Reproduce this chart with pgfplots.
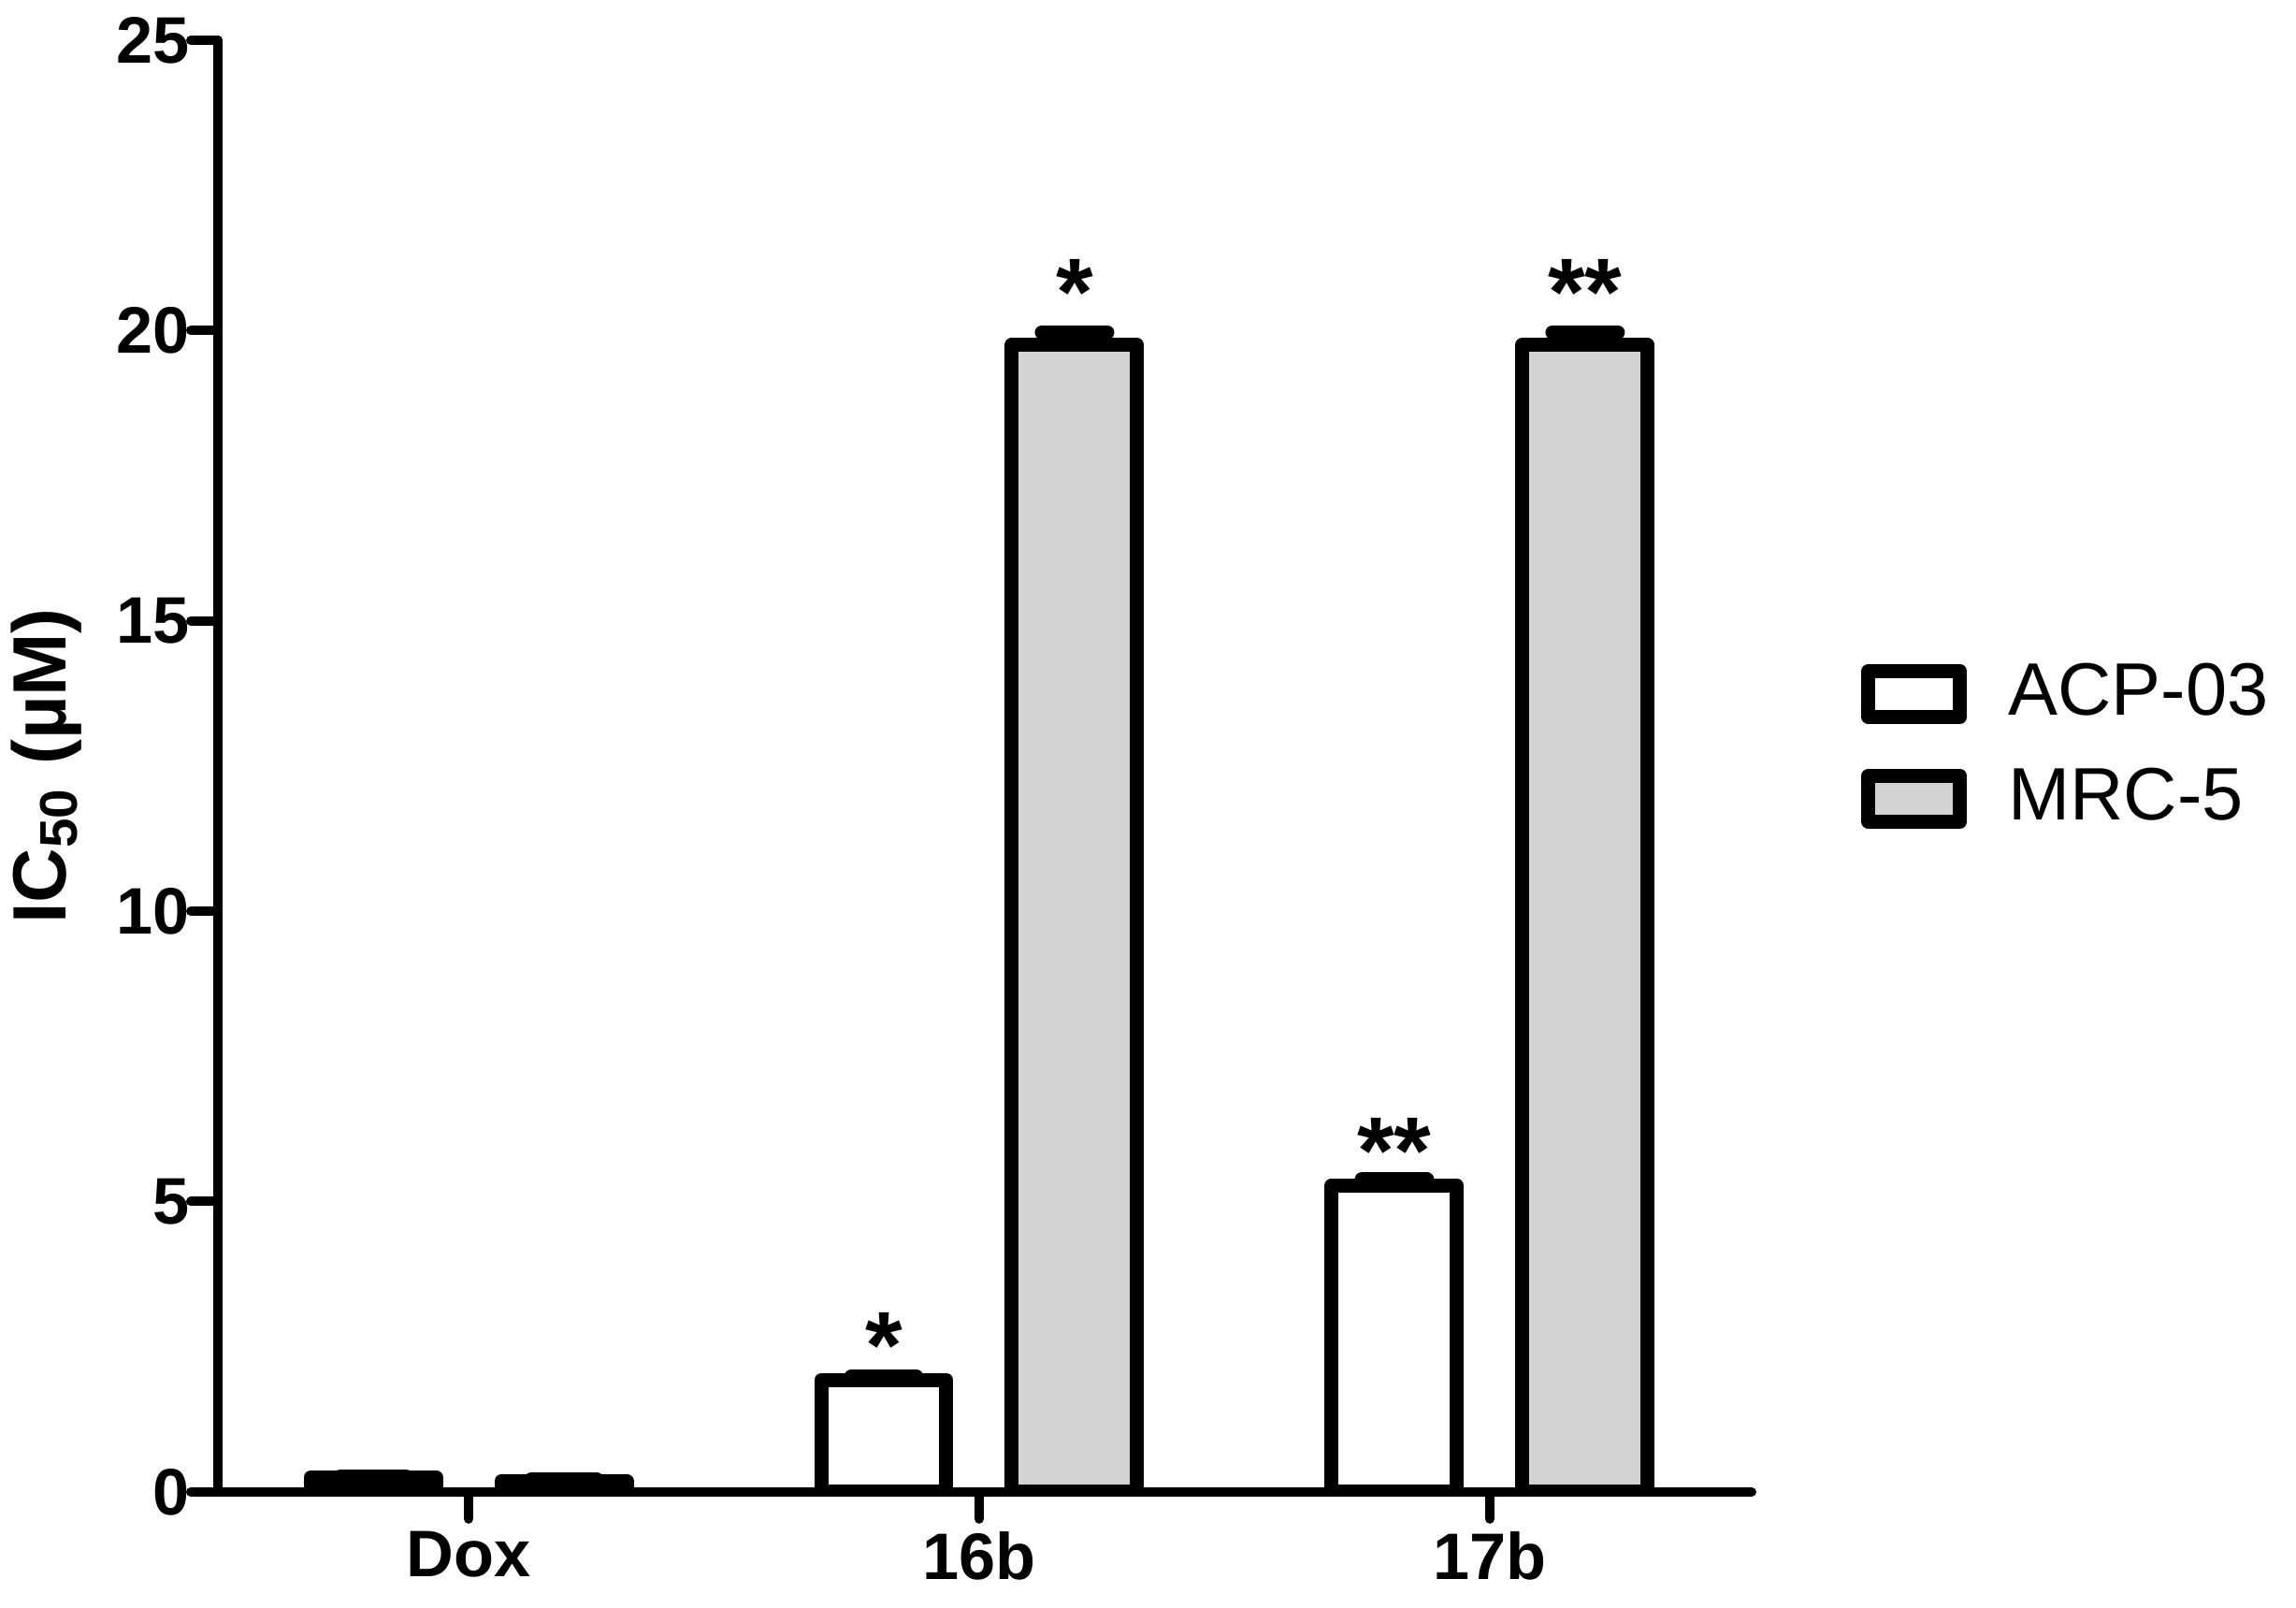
\documentclass[border=0pt]{standalone}
\usepackage{fontspec}
\setmainfont{Liberation Sans}
\usepackage{pgfplots}
\pgfplotsset{compat=1.18}
\usepackage{pgfplotstable}
\definecolor{mrcgray}{RGB}{211,211,211}

% IC50 values (uM), upper SEM, significance label
\pgfplotstableread{
x y err lab
0 0.25 0.02 {}
1 1.93 0.05 *
2 5.28 0.10 **
}\acp
\pgfplotstableread{
x y err lab
0 0.19 0.03 {}
1 19.75 0.22 *
2 19.75 0.22 **
}\mrc

\begin{document}
\begin{tikzpicture}
\begin{axis}[
    scale only axis, width=82mm, height=77.6mm,
    xmin=-0.491, xmax=2.513, ymin=0, ymax=25,
    axis x line=bottom, axis y line=left,
    axis line style={-, line width=0.5mm, line cap=round},
    axis on top,
    xtick={0,1,2}, xticklabels={Dox,16b,17b},
    ytick={0,5,...,25},
    tick align=outside, major tick length=1.45mm,
    tick style={line width=0.5mm, line cap=round, black},
    ticklabel style={font=\fontsize{10}{12}\selectfont\bfseries},
    /pgf/number format/assume math mode=true,
    yticklabel style={inner sep=0pt, xshift=0mm},
    xticklabel style={inner sep=0pt, yshift=-0.6mm},
    ylabel={IC\textsubscript{50} (µM)},
    ylabel style={font=\fontsize{11.5}{13}\selectfont\bfseries,
        at={(axis description cs:-0.112,0.5)}, anchor=center},
    ybar, bar width=6.7mm,
    error bars/y dir=plus, error bars/y explicit,
    error bars/error bar style={line width=0.75mm, black},
    error bars/error mark options={rotate=90, mark size=1.75mm, line width=0.75mm, line cap=round, black},
    nodes near coords, point meta=explicit symbolic,
    nodes near coords style={font=\fontsize{14.5}{16}\selectfont\bfseries,
        anchor=base, inner sep=0pt, black},
    legend style={at={(1.0707,0.5135)}, anchor=west, draw=none, fill=none,
        inner sep=0pt, row sep=2.3mm, column sep=2.2mm,
        font=\fontsize{11.3}{13}\selectfont, nodes={inner sep=0pt}},
    legend cell align=left,
    legend image code/.code={\draw[#1, line width=0.75mm, line join=round]
        (0mm,-1.225mm) rectangle (4.9mm,1.225mm);},
]
\addplot[fill=white, draw=black, line width=0.75mm, line join=round, bar shift=-5.1mm,
    every node near coord/.append style={yshift=0.1mm}]
    table[x=x, y=y, y error=err, meta=lab] {\acp};
\addlegendentry{ACP-03}
\addplot[fill=mrcgray, draw=black, line width=0.75mm, line join=round, bar shift=5.1mm,
    every node near coord/.append style={yshift=1.05mm}]
    table[x=x, y=y, y error=err, meta=lab] {\mrc};
\addlegendentry{MRC-5}
\coordinate (bl) at (rel axis cs:-0.1421,-0.0799);
\coordinate (tr) at (rel axis cs:1.3549,1.0277);
\end{axis}
\pgfresetboundingbox
\path[use as bounding box] (bl) rectangle (tr);
\end{tikzpicture}
\end{document}
